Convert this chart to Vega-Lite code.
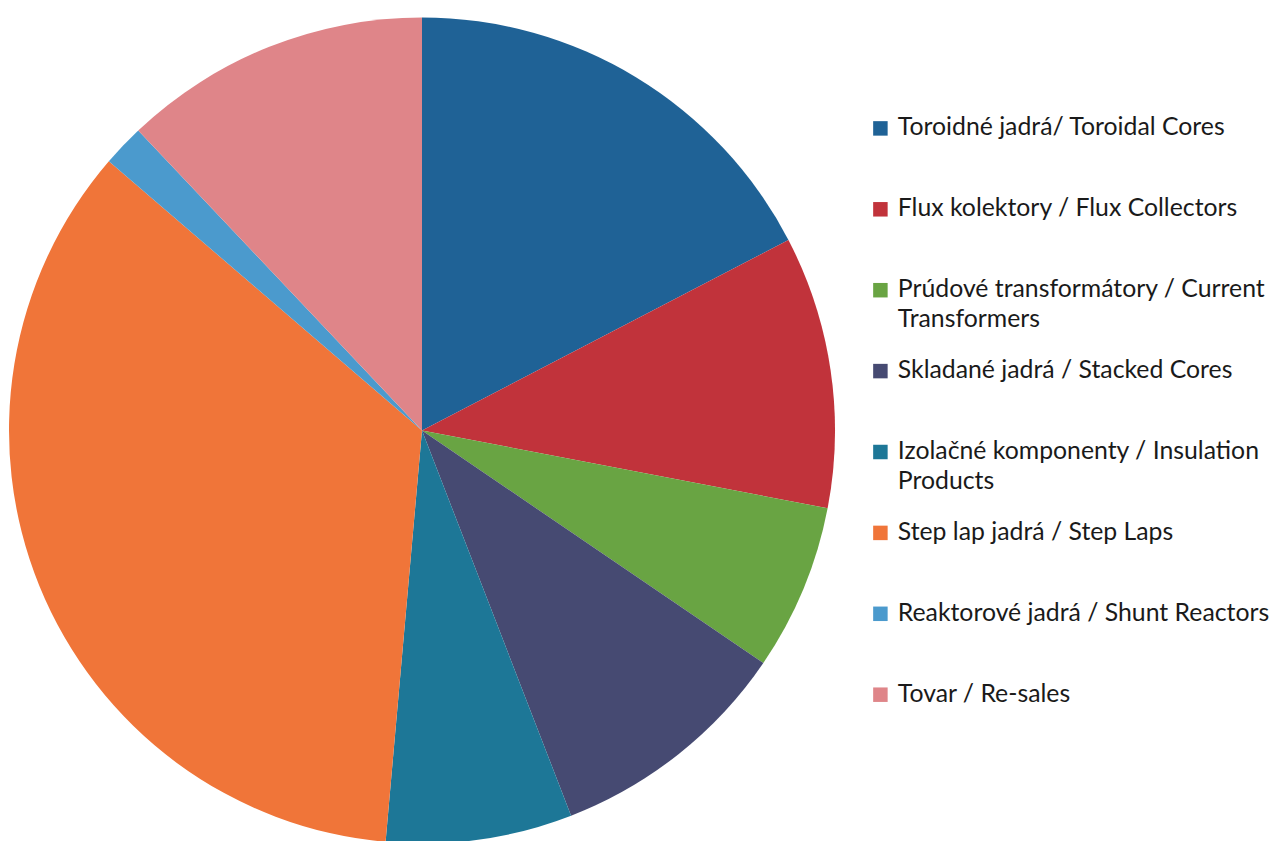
{
  "$schema": "https://vega.github.io/schema/vega-lite/v6.json",
  "width": 844,
  "height": 841,
  "padding": {"top": 10, "left": 0, "right": 0, "bottom": 0},
  "autosize": {"type": "pad"},
  "background": "white",
  "data": {
    "values": [
      {"category": "Toroidné jadrá/ Toroidal Cores", "share": 17.36},
      {"category": "Flux kolektory / Flux Collectors", "share": 10.64},
      {"category": "Prúdové transformátory / Current Transformers", "share": 6.5},
      {"category": "Skladané jadrá / Stacked Cores", "share": 9.6},
      {"category": "Izolačné komponenty / Insulation Products", "share": 7.28},
      {"category": "Step lap jadrá / Step Laps", "share": 34.88},
      {"category": "Reaktorové jadrá / Shunt Reactors", "share": 1.64},
      {"category": "Tovar / Re-sales", "share": 12.05}
    ]
  },
  "transform": [
    {"window": [{"op": "row_number", "as": "idx"}]}
  ],
  "mark": {"type": "arc", "outerRadius": 413, "stroke": null},
  "encoding": {
    "theta": {"field": "share", "type": "quantitative", "stack": true},
    "order": {"field": "idx", "type": "quantitative"},
    "color": {
      "field": "category",
      "type": "nominal",
      "sort": null,
      "scale": {
        "domain": ["Toroidné jadrá/ Toroidal Cores", "Flux kolektory / Flux Collectors", "Prúdové transformátory / Current Transformers", "Skladané jadrá / Stacked Cores", "Izolačné komponenty / Insulation Products", "Step lap jadrá / Step Laps", "Reaktorové jadrá / Shunt Reactors", "Tovar / Re-sales"],
        "range": ["#1f6296", "#c1333b", "#69a443", "#464a72", "#1d7797", "#f07539", "#4b9acd", "#df8589"]
      },
      "legend": {
        "orient": "none",
        "legendX": 868,
        "legendY": 106,
        "title": null,
        "symbolType": "square",
        "symbolSize": 210,
        "symbolStrokeWidth": 0,
        "labelFont": "Lato",
        "labelFontSize": 24.8,
        "labelColor": "#1a1a1a",
        "labelLimit": 420,
        "labelOffset": 5,
        "labelBaseline": "middle",
        "gridAlign": "all",
        "rowPadding": 24.9,
        "labelExpr": "split(replace(replace(datum.label, '/ Current ', '/ Current|'), '/ Insulation ', '/ Insulation|'), '|')",
        "encoding": {"labels": {"lineHeight": {"value": 30}}}
      }
    }
  },
  "config": {"view": {"stroke": null}}
}
